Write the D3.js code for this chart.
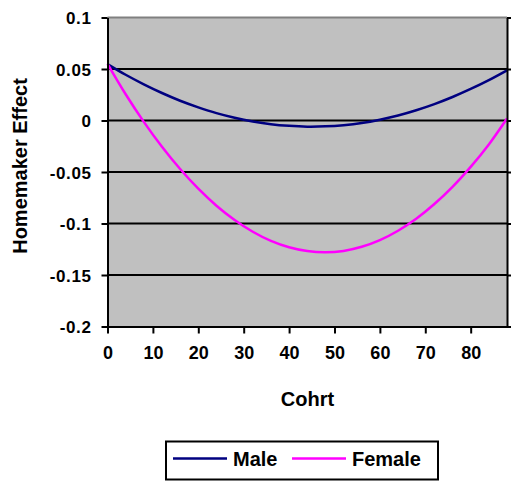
<!DOCTYPE html>
<html>
<head>
<meta charset="utf-8">
<script src="https://cdn.jsdelivr.net/npm/d3@7"></script>
<style>
  html, body { margin: 0; padding: 0; background: #fff; }
  svg { display: block; }
  text { font-family: "Liberation Sans", Arial, sans-serif; font-weight: bold; fill: #000; }
</style>
</head>
<body>
<svg id="chart" width="511" height="481"></svg>
<script>
// Cohort positions and estimated homemaker effects
const cohorts = [0, 4, 8, 12, 16, 20, 24, 28, 32, 36, 40, 44, 48, 52, 56, 60, 64, 68, 72, 76, 80, 84, 88];
const maleEffect = [0.0548, 0.0444, 0.0351, 0.0267, 0.0192, 0.0128, 0.0072, 0.0027, -0.0009, -0.0036, -0.0052, -0.0060,
                    -0.0057, -0.0045, -0.0024, 0.0008, 0.0048, 0.0099, 0.0159, 0.0228, 0.0306, 0.0392, 0.0487];
const femaleEffect = [0.0550, 0.0255, -0.0013, -0.0255, -0.0471, -0.0662, -0.0827, -0.0966, -0.1080, -0.1169, -0.1231, -0.1268,
                      -0.1280, -0.1266, -0.1226, -0.1161, -0.1070, -0.0954, -0.0811, -0.0644, -0.0450, -0.0232, 0.0020];
const xTicks = [0, 10, 20, 30, 40, 50, 60, 70, 80];
const yTicks = [0.1, 0.05, 0, -0.05, -0.1, -0.15, -0.2];
const seriesNames = ["Male", "Female"];
const seriesColors = ["#000080", "#FF00FF"];

const svg = d3.select("#chart");
const plotLeft = 107.5, plotRight = 507, plotTop = 17.5, plotBottom = 326.5;

const x = d3.scaleLinear().domain([0, 88]).range([plotLeft, plotRight]);
const y = d3.scaleLinear().domain([-0.2, 0.1]).range([plotBottom, plotTop]);

// plot background
svg.append("rect")
  .attr("x", plotLeft).attr("y", plotTop)
  .attr("width", plotRight - plotLeft).attr("height", plotBottom - plotTop)
  .attr("fill", "#C0C0C0");

// horizontal gridlines
svg.append("g").selectAll("line")
  .data(yTicks.filter(d => d !== 0.1 && d !== -0.2))
  .join("line")
  .attr("x1", plotLeft).attr("x2", plotRight)
  .attr("y1", d => y(d)).attr("y2", d => y(d))
  .attr("stroke", "#000").attr("stroke-width", 2);

// top border of plot area
svg.append("line")
  .attr("x1", plotLeft).attr("x2", plotRight)
  .attr("y1", plotTop).attr("y2", plotTop)
  .attr("stroke", "#808080").attr("stroke-width", 2);

// series lines
const line = d3.line().x((d, i) => x(cohorts[i])).y(d => y(d)).curve(d3.curveCatmullRom);
[maleEffect, femaleEffect].forEach((vals, k) => {
  svg.append("path")
    .attr("d", line(vals))
    .attr("fill", "none")
    .attr("stroke", seriesColors[k])
    .attr("stroke-width", 2.5);
});

function styleAxis(g) {
  g.select(".domain").attr("stroke", "#000").attr("stroke-width", 2);
  g.selectAll(".tick line").attr("stroke", "#000").attr("stroke-width", 2);
}

// left axis
const yAxis = svg.append("g")
  .attr("transform", `translate(${plotLeft},0)`)
  .call(d3.axisLeft(y).tickValues(yTicks).tickSize(6).tickSizeOuter(0).tickPadding(10)
    .tickFormat(d => String(+d.toFixed(2))));
styleAxis(yAxis);
yAxis.selectAll("text").style("font-size", "17px").attr("dy", "0.36em").attr("letter-spacing", "0.6");

// right axis (ticks only)
const yAxisR = svg.append("g")
  .attr("transform", `translate(${plotRight},0)`)
  .call(d3.axisRight(y).tickValues(yTicks).tickSize(6).tickSizeOuter(0).tickFormat(""));
styleAxis(yAxisR);

// bottom axis
const xAxis = svg.append("g")
  .attr("transform", `translate(0,${plotBottom})`)
  .call(d3.axisBottom(x).tickValues(xTicks).tickSize(7).tickSizeOuter(0).tickPadding(13));
styleAxis(xAxis);
xAxis.selectAll("text").style("font-size", "18px").attr("dy", "0.71em");

// axis titles
svg.append("text")
  .attr("x", 307.5).attr("y", 406)
  .attr("text-anchor", "middle")
  .style("font-size", "20px")
  .text("Cohrt");

svg.append("text")
  .attr("transform", "translate(27,166) rotate(-90)")
  .attr("text-anchor", "middle")
  .style("font-size", "20px")
  .text("Homemaker Effect");

// legend
const legend = svg.append("g");
legend.append("rect")
  .attr("x", 166).attr("y", 441.5).attr("width", 272).attr("height", 38)
  .attr("fill", "#fff").attr("stroke", "#000").attr("stroke-width", 2);
const legendItems = [
  { x1: 173, x2: 227, tx: 233 },
  { x1: 292, x2: 346, tx: 352 }
];
legendItems.forEach((it, k) => {
  legend.append("line")
    .attr("x1", it.x1).attr("x2", it.x2)
    .attr("y1", 458.5).attr("y2", 458.5)
    .attr("stroke", seriesColors[k]).attr("stroke-width", 2.5);
  legend.append("text")
    .attr("x", it.tx).attr("y", 466)
    .style("font-size", "20px")
    .text(seriesNames[k]);
});
</script>
</body>
</html>
